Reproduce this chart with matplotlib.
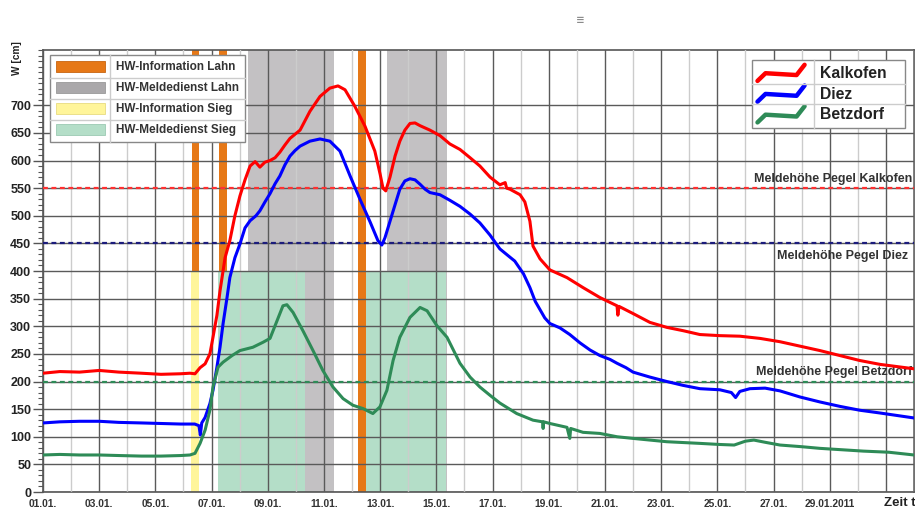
import matplotlib
matplotlib.use("Agg")
import matplotlib.pyplot as plt
from matplotlib.patches import Patch
from matplotlib.lines import Line2D
from matplotlib.legend_handler import HandlerBase
from matplotlib.ticker import MultipleLocator

plt.rcParams['font.family'] = ['Liberation Sans', 'DejaVu Sans']
plt.rcParams['font.weight'] = 'bold'

# x = Tag im Januar 2011 (1.0 = 01.01. 00:00)
kalkofen_t = [1.0, 1.6, 2.3, 3.0, 3.7, 4.5, 5.2, 5.9, 6.23, 6.41, 6.59, 6.77, 6.94, 7.05, 7.19, 7.30,
              7.48, 7.65, 7.83, 8.01, 8.19, 8.37, 8.55, 8.72, 8.9, 9.08, 9.26, 9.43, 9.61, 9.79, 10.15,
              10.5, 10.86, 11.21, 11.5, 11.75, 12.1, 12.46, 12.81, 13.0, 13.1, 13.2, 13.35, 13.53, 13.7,
              13.88, 14.06, 14.24, 14.42, 14.77, 15.13, 15.48, 15.84, 16.2, 16.55, 16.91, 17.26, 17.45,
              17.5, 17.62, 17.98, 18.15, 18.33, 18.44, 18.69, 19.04, 19.65, 20.22, 20.82, 21.43, 21.46,
              21.5, 22.0, 22.6, 23.2, 23.78, 24.38, 25.09, 25.8, 26.52, 27.23, 27.94, 28.65, 29.36,
              30.07, 30.79, 32.0]
kalkofen_w = [215, 218, 217, 220, 217, 215, 213, 214, 215, 214, 225, 232, 250, 280, 320, 364,
              424, 455, 500, 536, 565, 590, 598, 588, 597, 600, 605, 615, 628, 640, 655,
              689, 716, 731, 735, 728, 698, 662, 617, 575, 550, 545, 570, 608, 635,
              655, 667, 668, 663, 655, 645, 630, 620, 605, 590, 570, 556, 560,
              550, 548, 538, 525, 490, 445, 422, 402, 388, 370, 352, 337, 320,
              336, 323, 307, 298, 292, 285, 283, 282, 278, 272, 264, 256, 247,
              238, 231, 223]

diez_t = [1.0, 1.6, 2.3, 3.0, 3.7, 4.5, 5.2, 5.9, 6.4, 6.55, 6.6, 6.65, 6.77, 6.94, 7.05, 7.19, 7.30,
          7.41, 7.55, 7.65, 7.83, 8.01, 8.19, 8.37, 8.58, 8.72, 8.9, 9.08, 9.26, 9.43, 9.61, 9.79, 9.97,
          10.15, 10.5, 10.86, 11.21, 11.57, 11.93, 12.28, 12.64, 12.92, 13.06, 13.17, 13.35, 13.53,
          13.7, 13.88, 14.06, 14.24, 14.42, 14.6, 14.77, 15.13, 15.48, 15.84, 16.2, 16.55, 16.91, 17.26,
          17.62, 17.79, 18.1, 18.33, 18.52, 18.69, 18.86, 19.04, 19.4, 19.75, 20.11, 20.47, 20.82,
          21.18, 21.43, 21.75, 22.0, 22.6, 23.2, 23.78, 24.38, 25.09, 25.5, 25.65, 25.8, 26.16, 26.7,
          27.23, 27.94, 28.65, 29.36, 30.07, 30.79, 32.0]
diez_w = [125, 127, 128, 128, 126, 125, 124, 123, 123, 120, 103, 125, 135, 160, 184, 226, 262,
          305, 352, 388, 424, 449, 478, 491, 500, 509, 525, 540, 558, 572, 592, 608, 618,
          626, 635, 639, 635, 617, 572, 530, 489, 455, 447, 460, 490, 520,
          548, 563, 567, 565, 557, 548, 542, 538, 528, 517, 503, 487, 465, 440,
          425, 418, 395, 370, 345, 330, 315, 305, 297, 285, 270, 257, 247,
          240, 233, 225, 217, 208, 200, 193, 187, 185, 180, 171, 182, 187, 188,
          183, 172, 163, 155, 148, 143, 134]

betzdorf_t = [1.0, 1.6, 2.3, 3.0, 3.7, 4.5, 5.2, 5.9, 6.23, 6.41, 6.59, 6.77, 6.94, 7.05, 7.23, 7.41,
              7.73, 8.01, 8.47, 8.83, 9.08, 9.33, 9.54, 9.68, 9.9, 10.25, 10.61, 10.96, 11.32, 11.68,
              12.03, 12.39, 12.74, 12.99, 13.24, 13.46, 13.7, 14.06, 14.42, 14.67, 15.02, 15.38,
              15.84, 16.2, 16.55, 16.91, 17.26, 17.86, 18.44, 18.78, 18.8, 18.82, 19.04, 19.65, 19.75,
              19.78, 20.22, 20.82, 21.43, 22.0, 22.6, 23.2, 24.38, 25.09, 25.6, 26.0, 26.3, 26.7,
              27.23, 28.0, 28.65, 30.2, 31.1, 32.0]
betzdorf_w = [67, 68, 67, 67, 66, 65, 65, 66, 67, 70, 88, 112, 148, 190, 226, 235,
              247, 256, 262, 271, 278, 310, 337, 339, 325, 292, 256, 220, 190, 169,
              157, 151, 142, 154, 184, 238, 280, 316, 334, 328, 301, 280,
              233, 208, 190, 175, 161, 142, 130, 127, 115, 127, 124, 117, 97,
              115, 108, 106, 100, 97, 94, 91, 88, 86, 85, 92, 94, 90,
              85, 82, 79, 74, 72, 67]

# Meldehoehen
meld_kalkofen = 550
meld_diez = 450
meld_betzdorf = 200

# Zeitraeume (von, bis, W unten, W oben)
info_lahn = [(6.30, 6.55, 400, 800), (7.26, 7.55, 400, 800), (12.21, 12.49, 0, 800)]
melde_lahn = [(8.30, 11.36, 0, 800), (13.24, 15.38, 0, 800)]
info_sieg = [(6.27, 6.55, 0, 400)]
melde_sieg = [(7.23, 10.32, 0, 400), (12.49, 15.34, 0, 400)]

tick_days = [1, 3, 5, 7, 9, 11, 13, 15, 17, 19, 21, 23, 25, 27, 29, 31]
tick_labels = ['01.01.', '03.01.', '05.01.', '07.01.', '09.01.', '11.01.', '13.01.', '15.01.',
               '17.01.', '19.01.', '21.01.', '23.01.', '25.01.', '27.01.', '29.01.2011', '']

c_orange = '#e67817'
c_gray = '#c3c1c3'
c_yellow = '#fff59a'
c_lgreen = '#b4dec8'
c_red = '#ff0000'
c_blue = '#0000ff'
c_green = '#2e8b57'

fig = plt.figure(figsize=(9.15, 5.11), dpi=100)
ax = fig.add_axes([43/915, 19/511, 871/915, 442/511])

for spans, col in [(melde_lahn, c_gray), (melde_sieg, c_lgreen), (info_sieg, c_yellow), (info_lahn, c_orange)]:
    for a, b, lo, hi in spans:
        ax.fill_between([a, b], lo, hi, color=col, lw=0, zorder=1)

ax.set_axisbelow(False)
ax.xaxis.grid(True, which='major', color='#5a5a5a', lw=1)
ax.xaxis.grid(True, which='minor', color='#cccccc', lw=1)
ax.yaxis.grid(True, which='major', color='#5a5a5a', lw=1)

ax.axhline(meld_kalkofen, color='#ff3030', ls=(0, (2.2, 1.6)), lw=1.6, zorder=3)
ax.axhline(meld_diez, color='#1c1c7c', ls=(0, (2.2, 1.6)), lw=1.6, zorder=3)
ax.axhline(meld_betzdorf, color=c_green, ls=(0, (2.2, 1.6)), lw=1.6, zorder=3)
ax.text(31.92, 566, 'Meldehöhe Pegel Kalkofen', ha='right', va='center', fontsize=9, color='#333333', zorder=4)
ax.text(31.8, 428, 'Meldehöhe Pegel Diez', ha='right', va='center', fontsize=9, color='#333333', zorder=4)
ax.text(31.93, 218, 'Meldehöhe Pegel Betzdorf', ha='right', va='center', fontsize=9, color='#333333', zorder=4)

ax.plot(kalkofen_t, kalkofen_w, color=c_red, lw=2.2, zorder=4)
ax.plot(diez_t, diez_w, color=c_blue, lw=2.2, zorder=4)
ax.plot(betzdorf_t, betzdorf_w, color=c_green, lw=2.2, zorder=4)

ax.set_xlim(1, 32)
ax.set_ylim(0, 800)
ax.set_xticks(tick_days)
ax.set_xticklabels(tick_labels)
ax.xaxis.set_minor_locator(MultipleLocator(2, offset=0))
ax.set_yticks(range(0, 701, 50))
ax.yaxis.set_minor_locator(MultipleLocator(10))
ax.tick_params(axis='x', which='both', length=0, pad=5, labelsize=7.4, labelcolor='#333333')
ax.tick_params(axis='y', which='major', length=7, width=1, color='#555555', pad=1.5, labelsize=9, labelcolor='#222222')
ax.tick_params(axis='y', which='minor', length=3.5, width=0.8, color='#555555')
for s in ax.spines.values():
    s.set_color('#555555')
    s.set_linewidth(1.2)


class ZigzagHandler(HandlerBase):
    def create_artists(self, legend, orig_handle, xdescent, ydescent, width, height, fontsize, trans):
        xs = [0, 0.17, 0.83, 1.0]
        ys = [0.0, 0.55, 0.42, 1.15]
        line = Line2D([-xdescent + x * width for x in xs],
                      [-ydescent - 0.1 * height + y * height for y in ys],
                      color=orig_handle.get_color(), lw=3.2, solid_capstyle='round', solid_joinstyle='round')
        line.set_transform(trans)
        return [line]


area_handles = [Patch(facecolor=c_orange, edgecolor='#c86410', lw=0.6, label='HW-Information Lahn'),
                Patch(facecolor='#aaa8aa', edgecolor='#999999', lw=0.6, label='HW-Meldedienst Lahn'),
                Patch(facecolor=c_yellow, edgecolor='#e8dc80', lw=0.6, label='HW-Information Sieg'),
                Patch(facecolor=c_lgreen, edgecolor='#9ccab2', lw=0.6, label='HW-Meldedienst Sieg')]
leg1 = ax.legend(handles=area_handles, loc='upper left', bbox_to_anchor=(7/871, 1 - 5/442), borderaxespad=0,
                 fontsize=8.5, handlelength=4.2, handleheight=1.05, labelspacing=0.72, handletextpad=0.9,
                 borderpad=0.5, fancybox=False, framealpha=1, edgecolor='#888888')
leg1.get_frame().set_linewidth(1.0)
for t in leg1.get_texts():
    t.set_color('#333333')
ax.add_artist(leg1)

line_handles = [Line2D([], [], color=c_red, label='Kalkofen'),
                Line2D([], [], color=c_blue, label='Diez'),
                Line2D([], [], color=c_green, label='Betzdorf')]
leg2 = ax.legend(handles=line_handles, handler_map={Line2D: ZigzagHandler()}, loc='upper left',
                 bbox_to_anchor=((752 - 43)/871, 0.5, 153/871, 0.5 - 10/442), mode='expand',
                 borderaxespad=0, fontsize=11.3, handlelength=3.0,
                 handleheight=1.0, labelspacing=0.34, handletextpad=1.0, borderpad=0.35,
                 fancybox=False, framealpha=1, edgecolor='#888888')
leg2.get_frame().set_linewidth(1.0)
for t in leg2.get_texts():
    t.set_color('#222222')

fig.text(17/915, 1 - 58/511, 'W [cm]', rotation=90, ha='center', va='center', fontsize=7.3, color='#222222')
fig.text(884/915, 1 - 503/511, 'Zeit t', ha='left', va='center', fontsize=9.5, color='#222222')
fig.text(580/915, 1 - 20/511, '≡', ha='center', va='center', fontsize=7.5, color='#8a8a8a', family='DejaVu Sans')

# Trennlinien in den Legenden (Tabellenoptik)
fig.canvas.draw()
inv = fig.transFigure.inverted()
for leg in (leg1, leg2):
    fb = leg.get_frame().get_window_extent()
    tb = [t.get_window_extent() for t in leg.get_texts()]
    xsep = tb[0].x0 - 6
    (x0, y0), (x1, y1) = inv.transform([(xsep, fb.y0), (xsep, fb.y1)])
    fig.add_artist(Line2D([x0, x1], [y0, y1], color='#cccccc', lw=1, zorder=10))
    for i in range(len(tb) - 1):
        ysep = (tb[i].y0 + tb[i + 1].y1) / 2
        (x0, y0), (x1, y1) = inv.transform([(fb.x0, ysep), (fb.x1, ysep)])
        fig.add_artist(Line2D([x0, x1], [y0, y1], color='#cccccc', lw=1, zorder=10))

fig.savefig('out.png', dpi=100)
